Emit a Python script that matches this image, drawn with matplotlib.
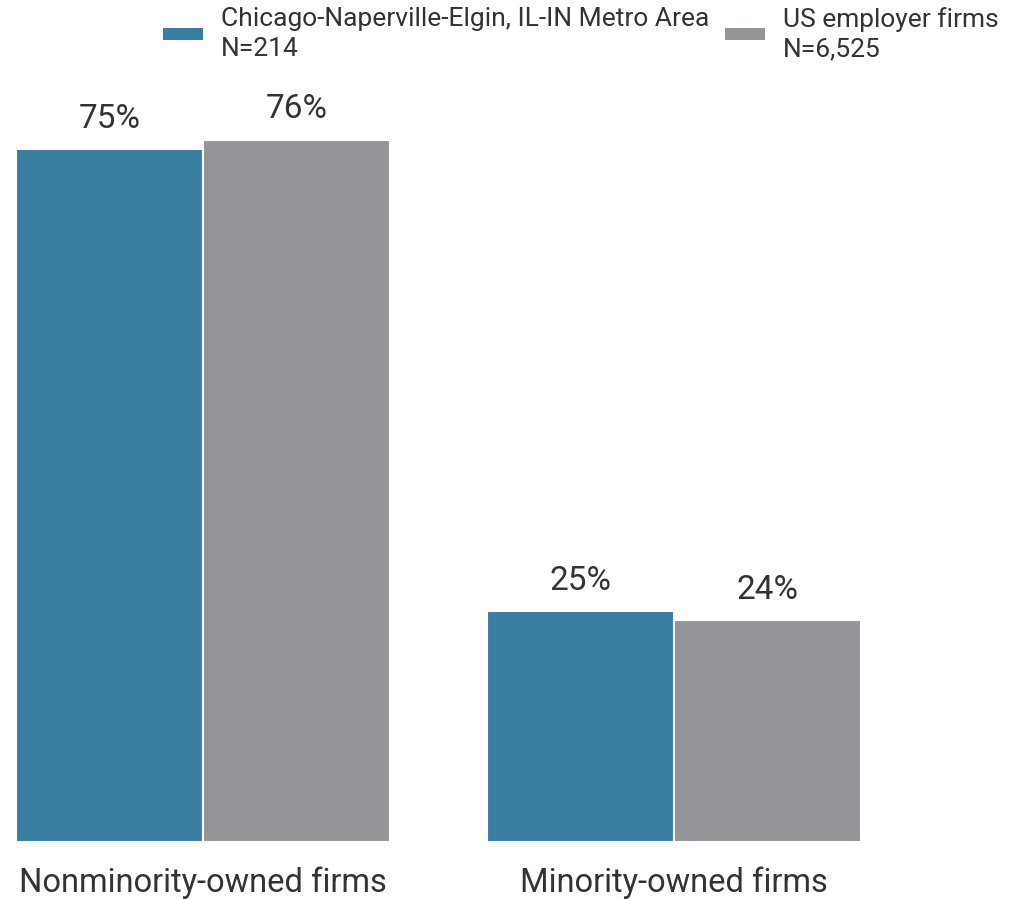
import matplotlib
matplotlib.use("Agg")
import matplotlib.pyplot as plt
from matplotlib.patches import Patch
import numpy as np

categories = ["Nonminority-owned firms", "Minority-owned firms"]
series_names = ["Chicago-Naperville-Elgin, IL-IN Metro Area\nN=214", "US employer firms\nN=6,525"]
chicago = [75, 25]
us_firms = [76, 24]
colors = ["#377EA0", "#939598"]

plt.rcParams["font.family"] = ["Roboto", "DejaVu Sans"]
text_color = "#333333"

W, H = 1011, 899
fig = plt.figure(figsize=(W / 100, H / 100), dpi=100)
ax = fig.add_axes([16 / W, 57 / H, (1000 - 16) / W, 739 / H])

x = np.arange(len(categories))
width = 0.397
for i, (vals, col) in enumerate(zip([chicago, us_firms], colors)):
    pos = x + (i - 0.5) * width
    ax.bar(pos, vals, width, color=col, edgecolor="white", linewidth=1.5)
    for px, v in zip(pos, vals):
        ax.annotate(f"{v}%", (px, v), xytext=(0, 15.5), textcoords="offset points",
                    ha="center", va="baseline", fontsize=24, color=text_color)

ax.set_xlim(-width, (1000 - 202) / 471.5)
ax.set_ylim(0, 80)
ax.set_xticks(x)
ax.set_xticklabels(categories, fontsize=23.5, color=text_color)
ax.tick_params(axis="x", length=0, pad=18)
ax.set_yticks([])
for s in ax.spines.values():
    s.set_visible(False)

handles = [Patch(facecolor=c, edgecolor="none") for c in colors]
leg = fig.legend(handles, series_names, loc="upper left", bbox_to_anchor=(163 / W, 1 - 7 / H),
                 ncol=2, frameon=False, fontsize=19, labelcolor=text_color,
                 handlelength=1.52, handleheight=0.32, handletextpad=0.68,
                 columnspacing=0.6, borderpad=0, borderaxespad=0)
for t in leg.get_texts():
    t.set_linespacing(1.3)

fig.savefig("out.png", dpi=100)
